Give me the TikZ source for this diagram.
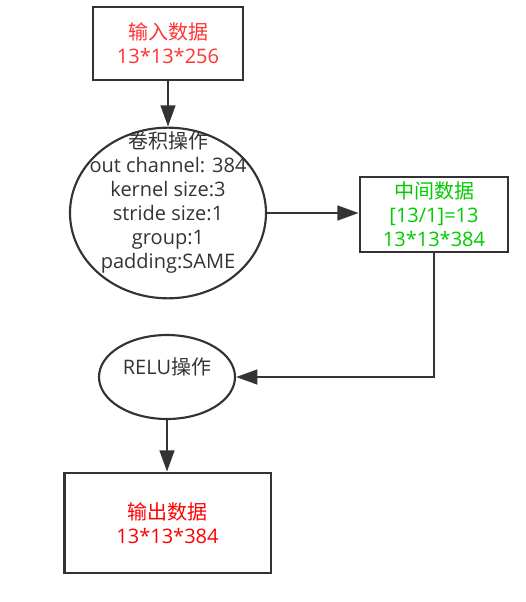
\documentclass[tikz,border=0pt]{standalone}
\usepackage{fontspec}
\setmainfont{Open Sans}
\newfontfamily\cjk{Noto Sans CJK SC}
\usepackage{tikz}
\usetikzlibrary{shapes.geometric, arrows.meta, positioning}
\definecolor{RR}{RGB}{255, 51, 51}
\definecolor{OO}{RGB}{255, 0, 0}
\definecolor{GG}{RGB}{0, 204, 0}
\definecolor{LL}{RGB}{51, 51, 51}
\tikzset{
    databox/.style={rectangle, draw=LL, line width=2pt, align=center, inner sep=0pt},
    opellipse/.style={ellipse, draw=LL, line width=1.6pt, inner sep=0pt},
    optext/.style={align=center, text=LL, inner sep=0pt},
    arrow/.style={draw=LL, line width=2pt, -{Triangle[length=16pt, width=11pt]}},
}

\begin{document}
\begin{tikzpicture}[
  x=0.75pt, y=-0.75pt, % 按像素坐标
  font=\fontsize{15}{18}\selectfont,
  ]
\useasboundingbox (0,0) rectangle (525,602);

\node[databox, minimum width=112.5pt, minimum height=54.75pt, text=RR] (input) at (168,43.5) {{\cjk 输入数据}\\13*13*256};

\node[opellipse, minimum width=147pt, minimum height=128pt] (conv) at (168,213) {};
\node[optext] (convtext) at (168,202) {{\cjk 卷积操作}\\out channel: 384\\kernel size:3\\stride size:1\\group:1\\padding:SAME};

\node[databox, minimum width=111pt, minimum height=56.25pt, text=GG] (mid) at (434,214.5) {{\cjk 中间数据}\\{}[13/1]=13\\13*13*384};

\node[opellipse, minimum width=102pt, minimum height=63pt] (relu) at (167,377) {};
\node[optext] (relutext) at (167,367) {RELU{\cjk 操作}};

\node[databox, minimum width=155pt, minimum height=75pt, text=OO] (output) at (167.5,523) {{\cjk 输出数据}\\13*13*384};

\coordinate (turn) at (mid.south |- relu.east);

\draw[arrow] (input.south) -- (conv.north);
\draw[arrow] (conv.east) -- (conv.east -| mid.west);
\draw[arrow] (mid.south) -- (turn) -- (relu.east);
\draw[arrow] (relu.south) -- (relu.south |- output.north);

\end{tikzpicture}
\end{document}
